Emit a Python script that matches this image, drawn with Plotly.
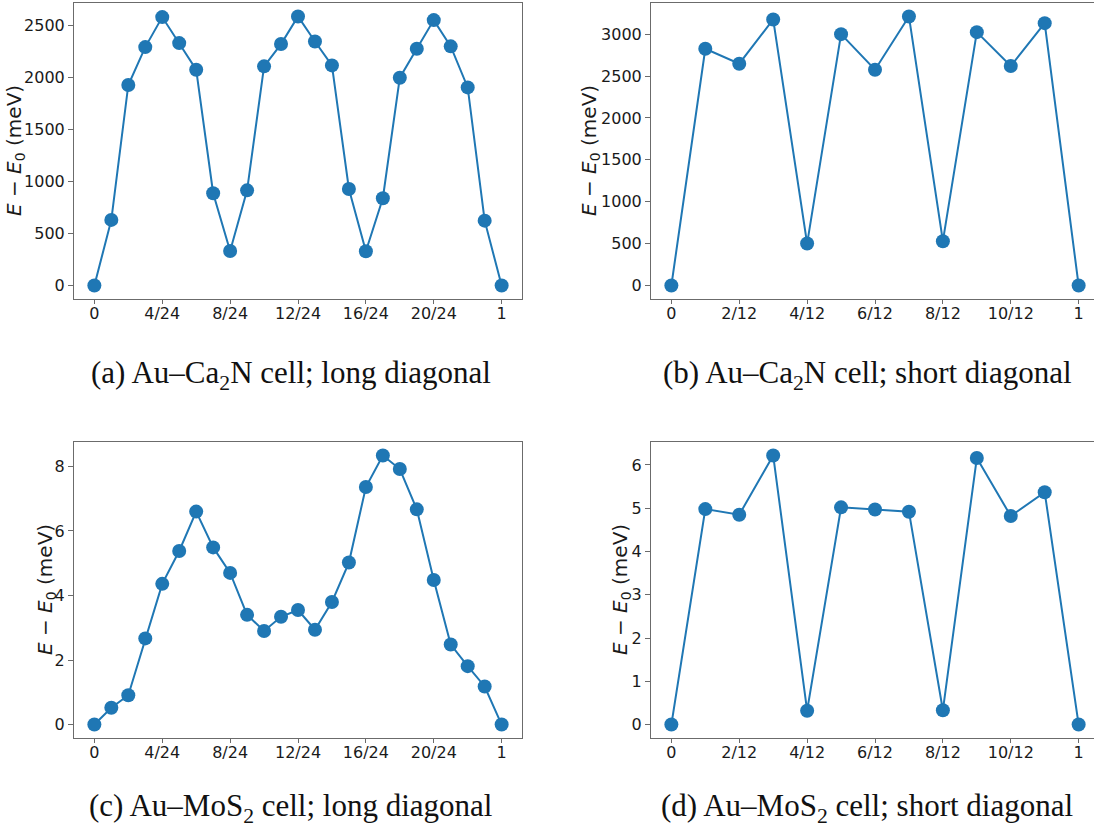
import plotly.graph_objects as go

# ---- data ----
long_labels = ["0", "4/24", "8/24", "12/24", "16/24", "20/24", "1"]
long_ticks = [0, 4, 8, 12, 16, 20, 24]
short_labels = ["0", "2/12", "4/12", "6/12", "8/12", "10/12", "1"]
short_ticks = [0, 2, 4, 6, 8, 10, 12]

x_long = list(range(25))
x_short = list(range(13))

ca2n_long = [0, 630, 1925, 2289, 2577, 2327, 2072, 886, 332, 914, 2104, 2318, 2583,
             2343, 2113, 927, 329, 838, 1995, 2273, 2548, 2296, 1902, 623, 0]
ca2n_short = [0, 2825, 2647, 3175, 501, 3000, 2575, 3211, 529, 3024, 2619, 3131, 0]
mos2_long = [0, 0.52, 0.91, 2.67, 4.36, 5.38, 6.60, 5.49, 4.70, 3.40, 2.90, 3.34, 3.55,
             2.94, 3.80, 5.02, 7.36, 8.34, 7.92, 6.67, 4.48, 2.48, 1.81, 1.18, 0]
mos2_short = [0, 4.98, 4.85, 6.22, 0.32, 5.02, 4.97, 4.92, 0.33, 6.16, 4.82, 5.37, 0]

captions = ["(a) Au\u2013Ca<sub>2</sub>N cell; long diagonal",
            "(b) Au\u2013Ca<sub>2</sub>N cell; short diagonal",
            "(c) Au\u2013MoS<sub>2</sub> cell; long diagonal",
            "(d) Au\u2013MoS<sub>2</sub> cell; short diagonal"]
ylabel = "<i>E</i> \u2212 <i>E</i><sub>0</sub> (meV)"

W, H = 1094, 833
BLUE = "#1f77b4"
SPINE = "#6b6b6b"
TXT = "#1a1a1a"

# panel boxes in pixels: left, right, top, bottom
boxes = [(74, 522, 3, 299), (651, 1099, 3, 299), (74, 522, 442, 738), (651, 1099, 442, 738)]
panels = [(x_long, ca2n_long, long_ticks, long_labels, [0, 500, 1000, 1500, 2000, 2500]),
          (x_short, ca2n_short, short_ticks, short_labels, [0, 500, 1000, 1500, 2000, 2500, 3000]),
          (x_long, mos2_long, long_ticks, long_labels, [0, 2, 4, 6, 8]),
          (x_short, mos2_short, short_ticks, short_labels, [0, 1, 2, 3, 4, 5, 6])]
caption_pos = [(291, 375), (867, 375), (291, 808), (867, 808)]
ylabel_x = [15, 590, 46, 621]

fig = go.Figure()
layout = dict(width=W, height=H, margin=dict(l=0, r=0, t=0, b=0),
              paper_bgcolor="white", plot_bgcolor="white", showlegend=False,
              font=dict(family="DejaVu Sans", color=TXT))
annotations = []

for i, ((x, y, tv, tt, ytv), (l, r, t, b)) in enumerate(zip(panels, boxes)):
    n = i + 1
    xa = "x" if n == 1 else f"x{n}"
    ya = "y" if n == 1 else f"y{n}"
    fig.add_trace(go.Scatter(x=x, y=y, mode="lines+markers", xaxis=xa, yaxis=ya,
                             line=dict(color=BLUE, width=2),
                             marker=dict(color=BLUE, size=14)))
    xspan = max(x) - min(x)
    xr0 = min(x) - 0.05 * xspan
    xr1 = max(x) + 0.05 * xspan
    r_eff = min(r, W)
    xr1_eff = xr0 + (xr1 - xr0) * (r_eff - l) / (r - l)
    yspan = max(y) - min(y)
    yr = [min(y) - 0.05 * yspan, max(y) + 0.05 * yspan]
    right_visible = r <= W
    layout["xaxis" if n == 1 else f"xaxis{n}"] = dict(
        domain=[l / W, r_eff / W], anchor=ya, range=[xr0, xr1_eff],
        tickmode="array", tickvals=tv, ticktext=tt,
        showgrid=False, zeroline=False, showline=True, mirror=True,
        linecolor=SPINE, linewidth=1, ticks="outside", ticklen=4, tickcolor=SPINE,
        ticklabelstandoff=-4,
        tickfont=dict(size=16, color=TXT, family="DejaVu Sans"))
    layout["yaxis" if n == 1 else f"yaxis{n}"] = dict(
        domain=[1 - b / H, 1 - t / H], anchor=xa, range=yr,
        tickmode="array", tickvals=ytv,
        showgrid=False, zeroline=False, showline=True, mirror=right_visible,
        linecolor=SPINE, linewidth=1, ticks="outside", ticklen=5, tickcolor=SPINE,
        tickfont=dict(size=16, color=TXT, family="DejaVu Sans"))
    annotations.append(dict(text=ylabel, xref="paper", yref="paper",
                            x=ylabel_x[i] / W, y=1 - (t + b) / 2 / H,
                            xanchor="center", yanchor="middle", textangle=-90,
                            showarrow=False, font=dict(size=20, color=TXT, family="DejaVu Sans")))
    cx, cy = caption_pos[i]
    annotations.append(dict(text=captions[i], xref="paper", yref="paper",
                            x=cx / W, y=1 - cy / H, xanchor="center", yanchor="middle",
                            showarrow=False,
                            font=dict(size=31, color="#111111", family="Liberation Serif")))

layout["annotations"] = annotations
fig.update_layout(**layout)
fig.write_html("out.html")
